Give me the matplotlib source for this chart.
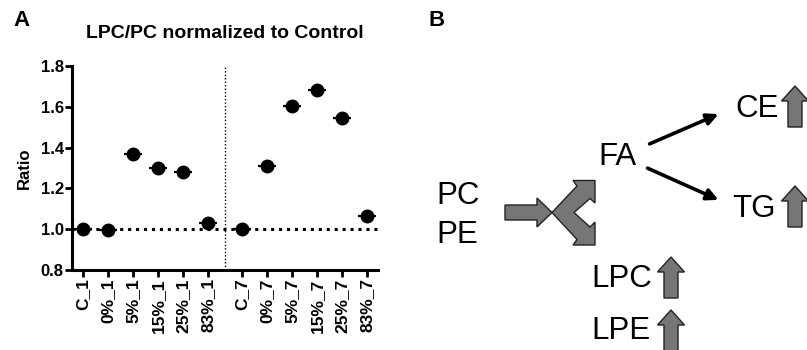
import matplotlib.pyplot as plt
from matplotlib.patches import Polygon

plt.rcParams['font.family'] = ['Liberation Sans', 'DejaVu Sans']

# Panel A data
labels_day1 = ['C_1', '0%_1', '5%_1', '15%_1', '25%_1', '83%_1']
labels_day7 = ['C_7', '0%_7', '5%_7', '15%_7', '25%_7', '83%_7']
ratio_day1 = [1.00, 0.995, 1.37, 1.30, 1.28, 1.028]
ratio_day7 = [1.00, 1.31, 1.605, 1.682, 1.545, 1.065]
group_gap = 0.36
y_ticks = [0.8, 1.0, 1.2, 1.4, 1.6, 1.8]

fig = plt.figure(figsize=(8.07, 3.5), dpi=100)

# ---- panel A
ax = fig.add_axes([72 / 807, 1 - 270 / 350, (378 - 72) / 807, (270 - 66) / 350])
x1 = list(range(len(labels_day1)))
x7 = [len(labels_day1) + group_gap + i for i in range(len(labels_day7))]
xs = x1 + x7
ys = ratio_day1 + ratio_day7

ax.axhline(1.0, color='black', lw=2.2, ls=(0, (1, 1.6)), zorder=1)
ax.axvline((x1[-1] + x7[0]) / 2, color='black', lw=1, ls=(0, (1, 1.5)), zorder=1)
ax.plot(xs, ys, 'o', color='black', ms=9, zorder=3, clip_on=False)
ax.plot(xs, ys, '_', color='black', ms=13.5, mew=1.6, zorder=3, clip_on=False)

ax.set_xlim(-0.44, x7[-1] + 0.44)
ax.set_ylim(0.8, 1.8)
ax.set_yticks(y_ticks)
ax.set_yticklabels([f'{t:.1f}' for t in y_ticks], fontweight='bold', fontsize=12)
ax.set_xticks(xs)
ax.set_xticklabels(labels_day1 + labels_day7, rotation=90, fontweight='bold', fontsize=12.5)
ax.set_ylabel('Ratio', fontweight='bold', fontsize=12, labelpad=6)
ax.set_title('LPC/PC normalized to Control', fontweight='bold', fontsize=14, pad=20)
for side in ['top', 'right']:
    ax.spines[side].set_visible(False)
for side in ['left', 'bottom']:
    ax.spines[side].set_linewidth(2.2)
ax.tick_params(axis='both', width=2, length=5, pad=1)

fig.text(13 / 807, 1 - 21 / 350, 'A', fontsize=16, fontweight='bold', va='center', ha='left')
fig.text(428 / 807, 1 - 21 / 350, 'B', fontsize=16, fontweight='bold', va='center', ha='left')

# ---- panel B diagram, pixel coordinates
bx = fig.add_axes([0, 0, 1, 1])
bx.set_xlim(0, 807)
bx.set_ylim(350, 0)
bx.axis('off')

gray = '#767676'
edge = '#222222'

def txt(x, y, s):
    bx.text(x, y, s, fontsize=22.5, ha='left', va='center', color='black')

txt(436, 196, 'PC')
txt(436, 235, 'PE')
txt(598, 157, 'FA')
txt(735, 109, 'CE')
txt(732, 209, 'TG')
txt(591, 279, 'LPC')
txt(591, 331, 'LPE')

# horizontal gray arrow
bx.add_patch(Polygon([(505, 205), (537, 205), (537, 198), (552, 212.5),
                      (537, 227), (537, 220), (505, 220)],
                     closed=True, fc=gray, ec=edge, lw=1))
# fork
bx.add_patch(Polygon([(552, 212.5), (577, 186), (573, 180.5), (595, 180.5),
                      (595, 203), (590, 198.5), (574, 212.5), (590, 227),
                      (595, 222), (595, 245), (573, 245), (577, 239.5)],
                     closed=True, fc=gray, ec=edge, lw=1))

# black arrows
bx.annotate('', xy=(721, 113), xytext=(647, 145),
            arrowprops=dict(arrowstyle='-|>', color='black', lw=2.6, mutation_scale=17))
bx.annotate('', xy=(721, 201), xytext=(645, 167),
            arrowprops=dict(arrowstyle='-|>', color='black', lw=2.6, mutation_scale=17))

# gray up arrows
def up_arrow(xc, ytop, ybot):
    w = 7
    hw = 13.5
    hh = 15
    bx.add_patch(Polygon([(xc - w, ybot), (xc - w, ytop + hh), (xc - hw, ytop + hh),
                          (xc, ytop), (xc + hw, ytop + hh), (xc + w, ytop + hh),
                          (xc + w, ybot)],
                         closed=True, fc=gray, ec=edge, lw=1, clip_on=False))

up_arrow(795, 86, 127)
up_arrow(795, 186, 227)
up_arrow(671, 257, 298)
up_arrow(671, 310, 352)

fig.savefig('out.png', dpi=100)
